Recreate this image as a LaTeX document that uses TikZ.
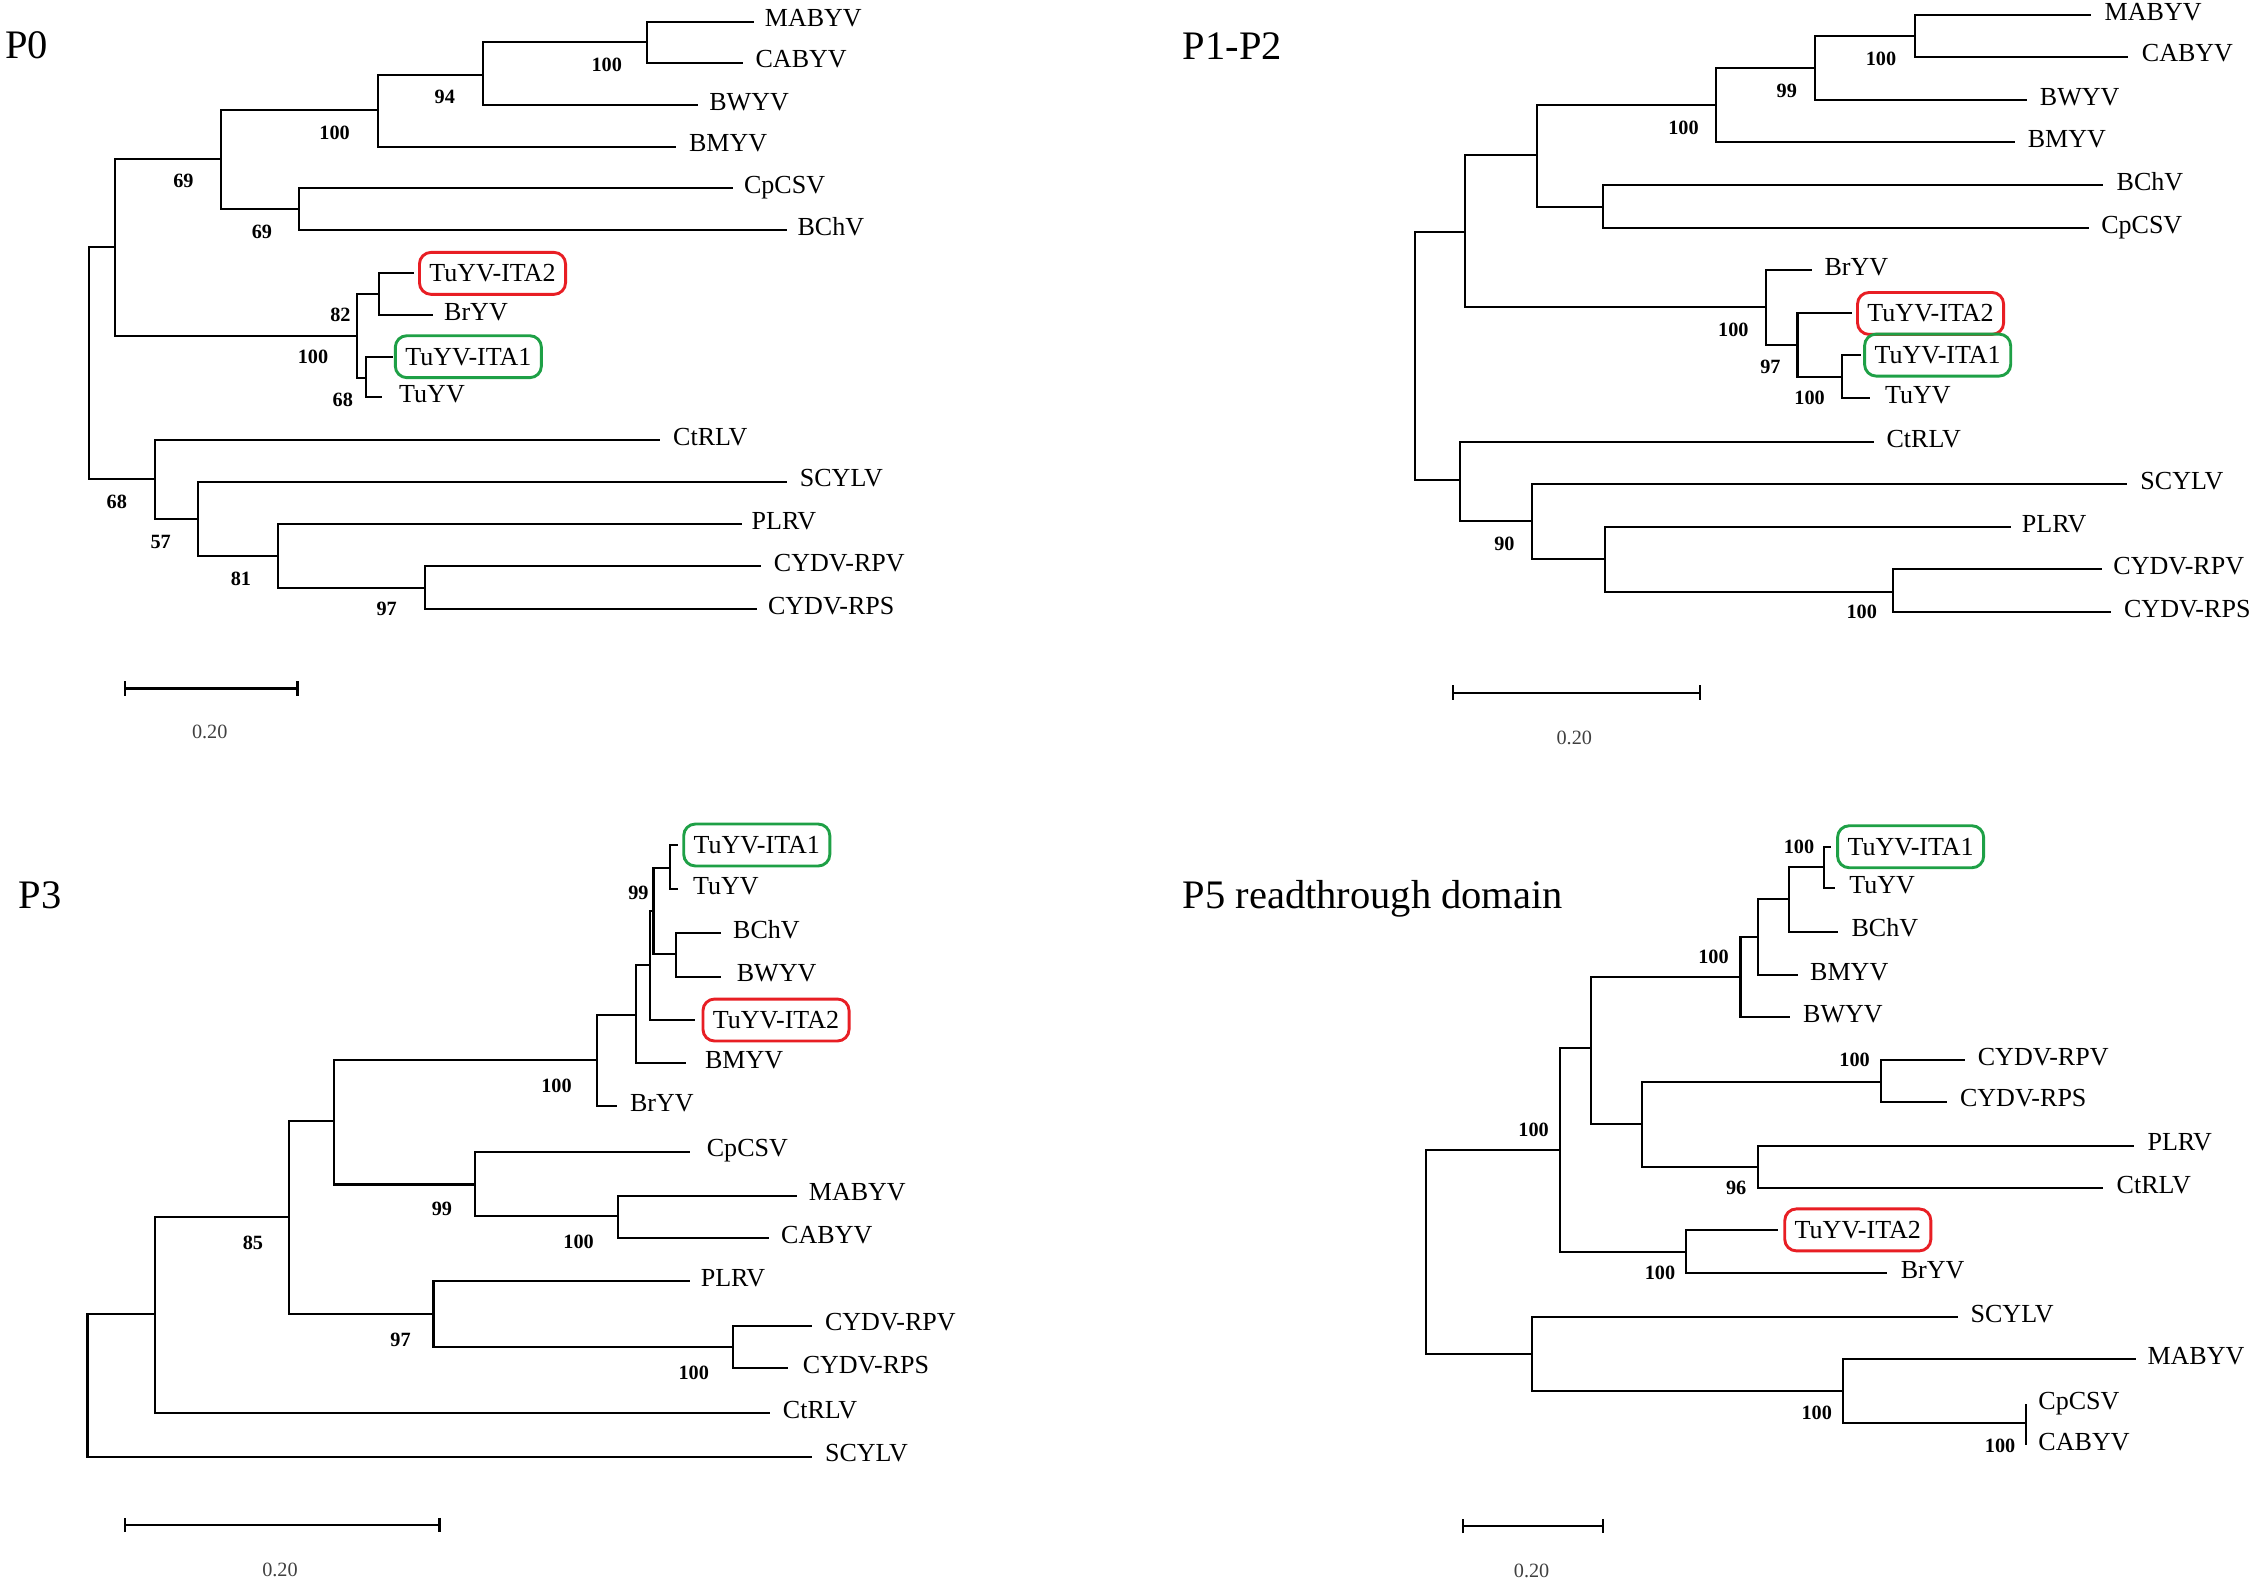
\documentclass[tikz,border=0pt]{standalone}
\usepackage{fontspec}
\setmainfont{Liberation Serif}
\usetikzlibrary{arrows.meta}
\definecolor{boxred}{RGB}{232,30,36}
\definecolor{boxgreen}{RGB}{30,160,70}
\tikzset{
  br/.style={line width=0.7pt},
  leaflbl/.style={anchor=base west, inner sep=0pt, font=\fontsize{9}{10}\selectfont},
  boot/.style={inner sep=0pt, font=\fontsize{7}{8}\selectfont\bfseries},
  hbox/.style={anchor=west, draw, line width=1pt, rounded corners=4pt, minimum width=50.5pt, minimum height=14.5pt, inner sep=1pt, font=\fontsize{9}{10}\selectfont},
  ttl/.style={anchor=base west, inner sep=0pt, font=\fontsize{14}{16}\selectfont},
  sbar/.style={line width=0.8pt, {Bar[width=5pt]}-{Bar[width=5pt]}},
  sclbl/.style={inner sep=0pt, font=\fontsize{7}{8}\selectfont, text=black!75}
}
\newcommand{\mkint}[4]{\coordinate (#1) at (#2,#3); \draw[br] (#4) |- (#1);}
\newcommand{\mkleaf}[6]{\coordinate (#1) at (#3,#4); \node[leaflbl] (#1L) at (#5,#4+3.5) {#6}; \draw[br] (#2) |- (#1);}
\newcommand{\mkbox}[7]{\coordinate (#1) at (#3,#4); \node[hbox, draw=#6] (#1L) at (#5,#4) {#7}; \draw[br] (#2) |- (#1);}
\newcommand{\mkbs}[4]{\node[boot] (#1) at (#2,#3) {#4};}
\begin{document}
\begin{tikzpicture}[x=0.5pt,y=-0.5pt]
\path[fill=white] (0,0) rectangle (1568,1096);
\useasboundingbox (0,0) rectangle (1568,1096);

% ================= P0 =================
\node[ttl] (tA) at (3.3,40.3) {P0};
\coordinate (aR) at (61.3,250);
\mkint{aA}{79.5}{170.5}{aR}
\mkint{aB}{152.5}{110.2}{aA}
\mkint{aC}{261.1}{76}{aB}
\mkint{aD}{333.7}{51.9}{aC}
\mkint{aE}{447.6}{29.3}{aD}
\mkint{aF}{206.4}{144.7}{aB}
\mkint{aG}{246.6}{232.3}{aA}
\mkint{aH}{262}{203.5}{aG}
\mkint{aI}{252.8}{261.6}{aG}
\mkint{aJ}{107}{331.2}{aR}
\mkint{aK}{136.8}{358.8}{aJ}
\mkint{aL}{191.9}{384.4}{aK}
\mkint{aM}{293.5}{406.8}{aL}
\mkleaf{aMABYV}{aE}{521.4}{15}{528.4}{MABYV}
\mkleaf{aCABYV}{aE}{514}{43.3}{522}{CABYV}
\mkleaf{aBWYV}{aD}{482.9}{72.6}{490}{BWYV}
\mkleaf{aBMYV}{aC}{467.5}{101.4}{476}{BMYV}
\mkleaf{aCpCSV}{aF}{506.5}{130.2}{514}{CpCSV}
\mkleaf{aBChV}{aF}{544.2}{159}{551}{BChV}
\mkbox{aITAb}{aH}{286}{189}{289}{boxred}{TuYV-ITA2}
\mkleaf{aBrYV}{aH}{299.2}{217.8}{306.7}{BrYV}
\mkbox{aITAa}{aI}{271.5}{246.6}{272.3}{boxgreen}{TuYV-ITA1}
\mkleaf{aTuYV}{aI}{264}{274.7}{275.6}{TuYV}
\mkleaf{aCtRLV}{aJ}{456}{304.2}{465}{CtRLV}
\mkleaf{aSCYLV}{aK}{544.2}{333}{552.6}{SCYLV}
\mkleaf{aPLRV}{aL}{512.7}{362.3}{519.3}{PLRV}
\mkleaf{aRPV}{aM}{526.4}{391.3}{534.7}{CYDV-RPV}
\mkleaf{aRPS}{aM}{523.1}{421}{530.6}{CYDV-RPS}
\mkbs{ab1}{419.5}{45}{100}
\mkbs{ab2}{307.5}{66.8}{94}
\mkbs{ab3}{231.3}{91.7}{100}
\mkbs{ab4}{126.8}{125.1}{69}
\mkbs{ab5}{181.1}{160.6}{69}
\mkbs{ab6}{235.4}{217.8}{82}
\mkbs{ab7}{216.4}{247}{100}
\mkbs{ab8}{237}{276.5}{68}
\mkbs{ab9}{80.8}{346.8}{68}
\mkbs{ab10}{111.1}{375}{57}
\mkbs{ab11}{166.6}{400.5}{81}
\mkbs{ab12}{267.3}{421.3}{97}
\coordinate (aS1) at (85.8,475.9);
\coordinate (aS2) at (206.4,475.9);
\draw[sbar] (aS1) -- (aS2);
\node[sclbl] (aSL) at (145,505.9) {0.20};

% ================= P1-P2 =================
\node[ttl] (tB) at (817.3,41) {P1-P2};
\coordinate (bR) at (978.5,250);
\mkint{bA}{1013}{160.2}{bR}
\mkint{bB}{1062.8}{107.2}{bA}
\mkint{bC}{1186.1}{72.6}{bB}
\mkint{bD}{1255.1}{46.8}{bC}
\mkint{bE}{1323.6}{24.7}{bD}
\mkint{bF}{1108.2}{142.9}{bB}
\mkint{bG}{1220.6}{212.1}{bA}
\mkint{bH}{1242.7}{238.6}{bG}
\mkint{bI}{1273.3}{260.9}{bH}
\mkint{bJ}{1009.6}{331.8}{bR}
\mkint{bK}{1058.9}{359.9}{bJ}
\mkint{bL}{1109.6}{386.7}{bK}
\mkint{bM}{1308.8}{409}{bL}
\mkleaf{bMABYV}{bE}{1445.9}{10.4}{1454.7}{MABYV}
\mkleaf{bCABYV}{bE}{1471.5}{39.2}{1480.4}{CABYV}
\mkleaf{bBWYV}{bD}{1401.5}{69.2}{1409.9}{BWYV}
\mkleaf{bBMYV}{bC}{1393.1}{98.4}{1401.5}{BMYV}
\mkleaf{bBChV}{bF}{1454.2}{127.9}{1463}{BChV}
\mkleaf{bCpCSV}{bF}{1444.4}{157.9}{1452.3}{CpCSV}
\mkleaf{bBrYV}{bG}{1252.6}{186.7}{1261}{BrYV}
\mkbox{bITAb}{bH}{1280.7}{216.7}{1283.2}{boxred}{TuYV-ITA2}
\mkbox{bITAa}{bI}{1286.6}{245.5}{1288.1}{boxgreen}{TuYV-ITA1}
\mkleaf{bTuYV}{bI}{1293}{275.4}{1302.9}{TuYV}
\mkleaf{bCtRLV}{bJ}{1295.5}{305.8}{1303.9}{CtRLV}
\mkleaf{bSCYLV}{bK}{1470.5}{334.6}{1479.4}{SCYLV}
\mkleaf{bPLRV}{bL}{1390.6}{364.6}{1397.5}{PLRV}
\mkleaf{bRPV}{bM}{1453.3}{393.6}{1460.7}{CYDV-RPV}
\mkleaf{bRPS}{bM}{1459.7}{423.3}{1468.1}{CYDV-RPS}
\mkbs{bb1}{1300.4}{40.8}{100}
\mkbs{bb2}{1235.3}{62.7}{99}
\mkbs{bb3}{1163.9}{88.3}{100}
\mkbs{bb4}{1198.4}{228.2}{100}
\mkbs{bb5}{1224}{253.6}{97}
\mkbs{bb6}{1251.1}{275.4}{100}
\mkbs{bb7}{1040.1}{376.1}{90}
\mkbs{bb8}{1287.1}{423.3}{100}
\coordinate (bS1) at (1003.6,478.9);
\coordinate (bS2) at (1176.2,478.9);
\draw[sbar] (bS1) -- (bS2);
\node[sclbl] (bSL) at (1088.4,510.5) {0.20};

% ================= P3 =================
\node[ttl] (tC) at (12.4,628) {P3};
\coordinate (cR) at (60.5,950);
\mkint{cX}{106.9}{908.4}{cR}
\mkint{cU}{199.8}{841.6}{cX}
\mkint{cRR}{230.9}{775.1}{cU}
\mkint{cQ}{412.4}{732.9}{cRR}
\mkint{cP}{439.4}{701.8}{cQ}
\mkint{cO}{449.7}{667.2}{cP}
\mkint{cN}{451.8}{629.9}{cO}
\mkint{cT1}{463.4}{599.9}{cN}
\mkint{cT2}{467.1}{659.8}{cN}
\mkint{cS}{328.3}{818.9}{cRR}
\mkint{cT}{427}{840.4}{cS}
\mkint{cV}{299.7}{908.4}{cU}
\mkint{cW}{506.5}{931}{cV}
\mkbox{cITAa}{cT1}{468.4}{584.2}{471.7}{boxgreen}{TuYV-ITA1}
\mkleaf{cTuYV}{cT1}{468.4}{614.9}{478.8}{TuYV}
\mkleaf{cBChV}{cT2}{498.6}{645.3}{506.5}{BChV}
\mkleaf{cBWYV}{cT2}{498.6}{675.3}{509}{BWYV}
\mkbox{cITAb}{cO}{480.8}{705.2}{485}{boxred}{TuYV-ITA2}
\mkleaf{cBMYV}{cP}{474.6}{735.2}{487}{BMYV}
\mkleaf{cBrYV}{cQ}{426.9}{764.7}{435.2}{BrYV}
\mkleaf{cCpCSV}{cS}{476.7}{796.3}{488.3}{CpCSV}
\mkleaf{cMABYV}{cT}{551.3}{826.7}{558.8}{MABYV}
\mkleaf{cCABYV}{cT}{531.4}{856.1}{539.7}{CABYV}
\mkleaf{cPLRV}{cV}{476.7}{885.6}{484.1}{PLRV}
\mkleaf{cRPV}{cW}{561.6}{916.5}{570}{CYDV-RPV}
\mkleaf{cRPS}{cW}{545}{946}{554.6}{CYDV-RPS}
\mkleaf{cCtRLV}{cX}{532.6}{977.1}{540.9}{CtRLV}
\mkleaf{cSCYLV}{cR}{561.6}{1007.1}{570}{SCYLV}
\mkbs{cb1}{441.4}{617.6}{99}
\mkbs{cb2}{384.7}{750.9}{100}
\mkbs{cb3}{305.5}{835.5}{99}
\mkbs{cb4}{400}{858.4}{100}
\mkbs{cb5}{174.9}{859.1}{85}
\mkbs{cb6}{276.9}{926}{97}
\mkbs{cb7}{479.6}{949}{100}
\coordinate (cS1) at (85.8,1054.3);
\coordinate (cS2) at (304.7,1054.3);
\draw[sbar] (cS1) -- (cS2);
\node[sclbl] (cSL) at (193.6,1085.5) {0.20};

% ================= P5 =================
\node[ttl] (tD) at (817.3,628) {P5 readthrough domain};
\coordinate (dR) at (985.9,860);
\mkint{dh}{1078.6}{795.1}{dR}
\mkint{dd}{1099.8}{724.8}{dh}
\mkint{dc}{1203.3}{675.3}{dd}
\mkint{db}{1215.1}{647.6}{dc}
\mkint{da}{1236.5}{621.8}{db}
\mkint{dt}{1261}{599.7}{da}
\mkint{de}{1135.3}{777.1}{dd}
\mkint{df}{1300.4}{747.9}{de}
\mkint{dg}{1215.1}{806.6}{de}
\mkint{di}{1165.8}{865.8}{dh}
\mkint{dj}{1058.9}{936.1}{dR}
\mkint{dk}{1274.3}{961.7}{dj}
\mkint{dl}{1400.5}{983.6}{dk}
\mkbox{dITAa}{dt}{1266}{585.4}{1269.4}{boxgreen}{TuYV-ITA1}
\mkleaf{dTuYV}{dt}{1268.4}{614.2}{1278.2}{TuYV}
\mkleaf{dBChV}{da}{1270.8}{644.1}{1279.7}{BChV}
\mkleaf{dBMYV}{db}{1242.7}{674.1}{1251.1}{BMYV}
\mkleaf{dBWYV}{dc}{1237.8}{703.4}{1246.2}{BWYV}
\mkleaf{dRPV}{df}{1358.6}{732.9}{1367}{CYDV-RPV}
\mkleaf{dRPS}{df}{1346.3}{761.7}{1354.7}{CYDV-RPS}
\mkleaf{dPLRV}{dg}{1475.4}{792.1}{1484.3}{PLRV}
\mkleaf{dCtRLV}{dg}{1454.2}{821.6}{1463}{CtRLV}
\mkbox{dITAb}{di}{1228.9}{850.3}{1232.9}{boxred}{TuYV-ITA2}
\mkleaf{dBrYV}{di}{1304.4}{880.3}{1313.7}{BrYV}
\mkleaf{dSCYLV}{dj}{1353.7}{910.7}{1362}{SCYLV}
\mkleaf{dMABYV}{dk}{1476.4}{939.8}{1484.3}{MABYV}
\mkleaf{dCpCSV}{dl}{1400.5}{970.7}{1408.9}{CpCSV}
\mkleaf{dCABYV}{dl}{1400.5}{999}{1408.9}{CABYV}
\mkbs{db1}{1243.7}{585.4}{100}
\mkbs{db2}{1184.6}{661.4}{100}
\mkbs{db3}{1282.2}{732.9}{100}
\mkbs{db4}{1200.3}{821.6}{96}
\mkbs{db5}{1060.3}{781.3}{100}
\mkbs{db6}{1147.6}{880.3}{100}
\mkbs{db7}{1256}{977.1}{100}
\mkbs{db8}{1382.8}{999.7}{100}
\coordinate (dS1) at (1010.5,1055);
\coordinate (dS2) at (1109.1,1055);
\draw[sbar] (dS1) -- (dS2);
\node[sclbl] (dSL) at (1058.9,1085.9) {0.20};
\end{tikzpicture}
\end{document}
